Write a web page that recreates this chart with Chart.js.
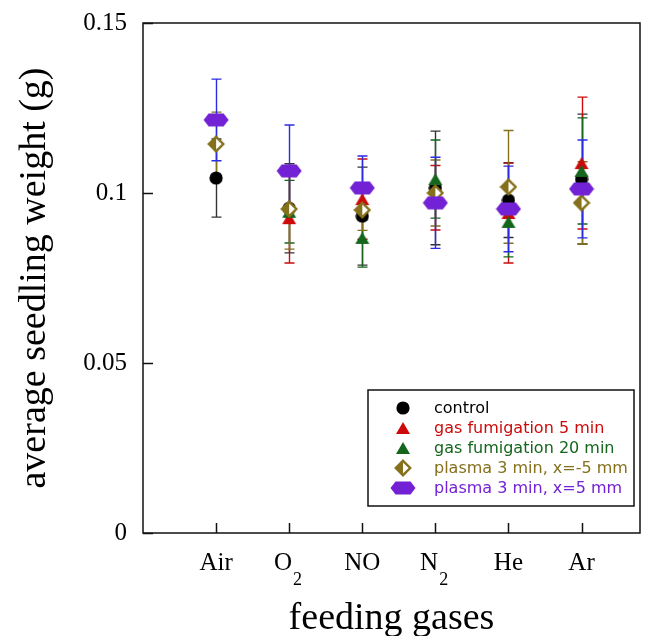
<!DOCTYPE html>
<html>
<head>
<meta charset="utf-8">
<script src="https://cdn.jsdelivr.net/npm/chart.js@4/dist/chart.umd.min.js"></script>
<style>
  html, body { margin: 0; padding: 0; background: #fff; }
  #c { display: block; }
</style>
</head>
<body>
<canvas id="c" width="652" height="636"></canvas>
<script>
// Feeding gases on the x axis (subscripts drawn separately)
const gasLabels = ['Air', 'O', 'NO', 'N', 'He', 'Ar'];
const gasSubscripts = ['', '2', '', '2', '', ''];
const yTickValues = [0, 0.05, 0.1, 0.15];
const yTickLabels = ['0', '0.05', '0.1', '0.15'];

const seriesNames = [
  'control',
  'gas fumigation 5 min',
  'gas fumigation 20 min',
  'plasma 3 min, x=-5 mm',
  'plasma 3 min, x=5 mm'
];

// average seedling weight (g) and error (g) per gas
const control       = [0.1044, 0.0955, 0.0932, 0.1015, 0.0979, 0.1041];
const controlErr    = [0.0115, 0.0131, 0.0144, 0.0167, 0.0110, 0.0191];
const fumig5        = [null, 0.0926, 0.0982, 0.0986, 0.0941, 0.1088];
const fumig5Err     = [null, 0.0132, 0.0118, 0.0095, 0.0147, 0.0194];
const fumig20       = [null, 0.0945, 0.0868, 0.1041, 0.0915, 0.1065];
const fumig20Err    = [null, 0.0092, 0.0086, 0.0115, 0.0103, 0.0156];
const plasmaMinus5  = [0.1144, 0.0953, 0.0950, 0.1000, 0.1018, 0.0971];
const plasmaMinus5Err = [0.0094, 0.0118, 0.0060, 0.0097, 0.0166, 0.0121];
const plasmaPlus5   = [0.1215, 0.1065, 0.1015, 0.0971, 0.0953, 0.1012];
const plasmaPlus5Err  = [0.0120, 0.0135, 0.0094, 0.0134, 0.0126, 0.0144];

const COL = {
  black: '#000000',
  blackBar: '#333333',
  red: '#cc0a0a',
  green: '#15661d',
  tan: '#85701c',
  purple: '#7222d4',
  blue: '#2b2be6'
};

// ---- marker sprites ----
function sprite(w, h, draw) {
  const c = document.createElement('canvas');
  c.width = w; c.height = h;
  const g = c.getContext('2d');
  draw(g, w, h);
  return c;
}
const circleImg = sprite(14, 14, (g) => {
  g.fillStyle = COL.black;
  g.beginPath(); g.arc(7, 7, 6.6, 0, Math.PI * 2); g.fill();
});
function triangleImg(color) {
  return sprite(16, 14, (g, w, h) => {
    g.fillStyle = color;
    g.beginPath();
    g.moveTo(w / 2, 1); g.lineTo(w - 1, h - 1); g.lineTo(1, h - 1); g.closePath();
    g.fill();
  });
}
const redTriImg = triangleImg(COL.red);
const greenTriImg = triangleImg(COL.green);
const diamondImg = sprite(18, 18, (g, w, h) => {
  const cx = w / 2, cy = h / 2, rx = 7.2, ry = 7.2;
  g.fillStyle = '#ffffff';
  g.beginPath();
  g.moveTo(cx, cy - ry); g.lineTo(cx + rx, cy); g.lineTo(cx, cy + ry); g.lineTo(cx - rx, cy); g.closePath();
  g.fill();
  g.fillStyle = COL.tan;
  g.beginPath();
  g.moveTo(cx, cy - ry); g.lineTo(cx, cy + ry); g.lineTo(cx - rx, cy); g.closePath();
  g.fill();
  g.strokeStyle = COL.tan; g.lineWidth = 2.4; g.lineJoin = 'miter';
  g.beginPath();
  g.moveTo(cx, cy - ry); g.lineTo(cx + rx, cy); g.lineTo(cx, cy + ry); g.lineTo(cx - rx, cy); g.closePath();
  g.stroke();
});
const hexImg = sprite(26, 14, (g, w, h) => {
  const cx = w / 2, cy = h / 2, hw = 12.5, hh = 6.4, tw = 7.5;
  g.fillStyle = COL.purple;
  g.beginPath();
  g.moveTo(cx - hw, cy); g.lineTo(cx - tw, cy - hh); g.lineTo(cx + tw, cy - hh);
  g.lineTo(cx + hw, cy); g.lineTo(cx + tw, cy + hh); g.lineTo(cx - tw, cy + hh); g.closePath();
  g.fill();
});

const series = [
  { name: seriesNames[0], values: control,      err: controlErr,      img: circleImg,   bar: COL.blackBar, text: COL.black,  order: 5 },
  { name: seriesNames[1], values: fumig5,       err: fumig5Err,       img: redTriImg,   bar: COL.red,      text: COL.red,    order: 4 },
  { name: seriesNames[2], values: fumig20,      err: fumig20Err,      img: greenTriImg, bar: COL.green,    text: COL.green,  order: 3 },
  { name: seriesNames[3], values: plasmaMinus5, err: plasmaMinus5Err, img: diamondImg,  bar: COL.tan,      text: COL.tan,    order: 2 },
  { name: seriesNames[4], values: plasmaPlus5,  err: plasmaPlus5Err,  img: hexImg,      bar: COL.blue,     text: COL.purple, order: 1 }
];

function toPoints(values, err) {
  const pts = [];
  values.forEach((v, i) => { if (v !== null) pts.push({ x: i + 1, y: v, e: err[i] }); });
  return pts;
}

const datasets = series.map(s => ({
  label: s.name,
  data: toPoints(s.values, s.err),
  pointStyle: s.img,
  pointRadius: 7,
  pointHoverRadius: 7,
  showLine: false,
  order: s.order,
  errorColor: s.bar
}));

// ---- plugins ----
const errorBars = {
  id: 'errorBars',
  beforeDatasetsDraw(chart) {
    const { ctx, scales: { x, y } } = chart;
    ctx.save();
    ctx.lineWidth = 1.4;
    chart.data.datasets.slice().sort((a, b) => b.order - a.order).forEach(ds => {
      ctx.strokeStyle = ds.errorColor;
      ds.data.forEach(p => {
        const px = Math.round(x.getPixelForValue(p.x)) + 0.5;
        const yTop = y.getPixelForValue(p.y + p.e);
        const yBot = y.getPixelForValue(p.y - p.e);
        ctx.beginPath();
        ctx.moveTo(px, yTop); ctx.lineTo(px, yBot);
        ctx.moveTo(px - 5, yTop); ctx.lineTo(px + 5, yTop);
        ctx.moveTo(px - 5, yBot); ctx.lineTo(px + 5, yBot);
        ctx.stroke();
      });
    });
    ctx.restore();
  }
};

const frameAndTicks = {
  id: 'frameAndTicks',
  afterDraw(chart) {
    const { ctx, chartArea: a, scales: { x, y } } = chart;
    ctx.save();
    ctx.strokeStyle = '#111';
    ctx.lineWidth = 1.5;
    ctx.strokeRect(a.left, a.top, a.right - a.left, a.bottom - a.top);
    ctx.beginPath();
    yTickValues.forEach(v => {
      const py = Math.round(y.getPixelForValue(v)) + 0.5;
      ctx.moveTo(a.left, py); ctx.lineTo(a.left + 10, py);
    });
    gasLabels.forEach((_, i) => {
      const px = Math.round(x.getPixelForValue(i + 1)) + 0.5;
      ctx.moveTo(px, a.bottom); ctx.lineTo(px, a.bottom - 10);
    });
    ctx.stroke();

    // subscripts on the gas labels
    ctx.fillStyle = '#000';
    ctx.textBaseline = 'middle';
    ctx.textAlign = 'left';
    gasLabels.forEach((lab, i) => {
      if (!gasSubscripts[i]) return;
      ctx.font = '25px "Liberation Serif"';
      const full = ctx.measureText(lab + '\u2002').width;
      const main = ctx.measureText(lab).width;
      const px = x.getPixelForValue(i + 1) - full / 2 + main + 1;
      ctx.font = '18px "Liberation Serif"';
      ctx.fillText(gasSubscripts[i], px, a.bottom + 47);
    });
    ctx.restore();
  }
};

const boxLegend = {
  id: 'boxLegend',
  afterDraw(chart) {
    const { ctx, chartArea: a } = chart;
    const w = 266, h = 116;
    const right = a.right - 6, bottom = a.bottom - 27;
    const left = right - w, top = bottom - h;
    ctx.save();
    ctx.fillStyle = '#fff';
    ctx.fillRect(left, top, w, h);
    ctx.strokeStyle = '#111';
    ctx.lineWidth = 1.5;
    ctx.strokeRect(left, top, w, h);
    ctx.font = '16px "DejaVu Sans"';
    ctx.textBaseline = 'middle';
    ctx.textAlign = 'left';
    series.forEach((s, i) => {
      const cy = top + 18 + i * 20;
      const mx = left + 35;
      const img = s.img;
      ctx.drawImage(img, Math.round(mx - img.width / 2), Math.round(cy - img.height / 2));
      ctx.fillStyle = s.text;
      ctx.fillText(s.name, left + 66, cy + 1);
    });
    ctx.restore();
  }
};

new Chart(document.getElementById('c'), {
  type: 'scatter',
  data: { datasets },
  options: {
    responsive: false,
    devicePixelRatio: 1,
    animation: false,
    events: [],
    layout: { padding: { top: 23, right: 12, left: 0, bottom: 0 } },
    plugins: { legend: { display: false }, tooltip: { enabled: false } },
    scales: {
      x: {
        type: 'linear',
        min: 0,
        max: 6.8,
        afterBuildTicks: (s) => { s.ticks = gasLabels.map((_, i) => ({ value: i + 1 })); },
        afterFit: (s) => { s.height = 103; s.paddingLeft = 0; s.paddingRight = 0; },
        grid: { display: false, drawTicks: false },
        border: { display: false },
        ticks: {
          autoSkip: false,
          maxRotation: 0,
          padding: 15,
          color: '#000',
          font: { family: '"Liberation Serif"', size: 25 },
          callback: (v) => {
            const i = Math.round(v) - 1;
            return gasSubscripts[i] ? gasLabels[i] + '\u2002' : gasLabels[i];
          }
        },
        title: {
          display: true,
          text: 'feeding gases',
          color: '#000',
          font: { family: '"Liberation Serif"', size: 38, lineHeight: 0.9 },
          padding: { top: 0, bottom: 0 }
        }
      },
      y: {
        min: 0,
        max: 0.15,
        afterBuildTicks: (s) => { s.ticks = yTickValues.map(v => ({ value: v })); },
        afterFit: (s) => { s.width = 143; s.paddingTop = 0; s.paddingBottom = 0; },
        grid: { display: false, drawTicks: false },
        border: { display: false },
        ticks: {
          padding: 16,
          color: '#000',
          font: { family: '"Liberation Serif"', size: 25 },
          callback: (v) => yTickLabels[yTickValues.indexOf(v)]
        },
        title: {
          display: true,
          text: 'average seedling weight (g)',
          color: '#000',
          font: { family: '"Liberation Serif"', size: 38, lineHeight: 1 },
          padding: { top: 16, bottom: 0 }
        }
      }
    }
  },
  plugins: [errorBars, frameAndTicks, boxLegend]
});
</script>
</body>
</html>
